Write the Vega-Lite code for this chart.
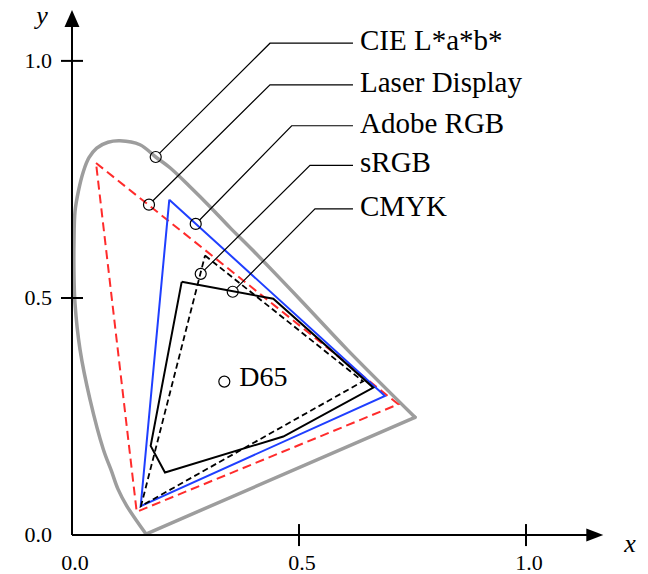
{
  "$schema": "https://vega.github.io/schema/vega-lite/v6.json",
  "width": 648,
  "height": 574,
  "autosize": {"type": "fit", "contains": "padding"},
  "padding": 0,
  "background": "white",
  "config": {"view": {"stroke": null}},
  "datasets": {
    "locus": [
      {"i": 0, "x": 0.1630, "y": 0.0021},
      {"i": 1, "x": 0.1205, "y": 0.0617},
      {"i": 2, "x": 0.1013, "y": 0.0968},
      {"i": 3, "x": 0.0870, "y": 0.1347},
      {"i": 4, "x": 0.0689, "y": 0.1811},
      {"i": 5, "x": 0.0396, "y": 0.2863},
      {"i": 6, "x": 0.0176, "y": 0.3916},
      {"i": 7, "x": 0.0066, "y": 0.4884},
      {"i": 8, "x": 0.0044, "y": 0.5495},
      {"i": 9, "x": 0.0044, "y": 0.6189},
      {"i": 10, "x": 0.0066, "y": 0.6821},
      {"i": 11, "x": 0.0139, "y": 0.7242},
      {"i": 12, "x": 0.0249, "y": 0.7663},
      {"i": 13, "x": 0.0374, "y": 0.7958},
      {"i": 14, "x": 0.0544, "y": 0.8162},
      {"i": 15, "x": 0.0793, "y": 0.8284},
      {"i": 16, "x": 0.1057, "y": 0.8316},
      {"i": 17, "x": 0.1498, "y": 0.8232},
      {"i": 18, "x": 0.1844, "y": 0.7973},
      {"i": 19, "x": 0.2159, "y": 0.7747},
      {"i": 20, "x": 0.2599, "y": 0.7347},
      {"i": 21, "x": 0.3040, "y": 0.6926},
      {"i": 22, "x": 0.3480, "y": 0.6484},
      {"i": 23, "x": 0.3965, "y": 0.6021},
      {"i": 24, "x": 0.5022, "y": 0.4968},
      {"i": 25, "x": 0.6057, "y": 0.3916},
      {"i": 26, "x": 0.7555, "y": 0.2484}
    ],
    "purple": [
      {"i": 0, "x": 0.7555, "y": 0.2484},
      {"i": 1, "x": 0.1630, "y": 0.0021}
    ],
    "laser": [
      {"i": 0, "x": 0.0529, "y": 0.7846},
      {"i": 1, "x": 0.7187, "y": 0.2758},
      {"i": 2, "x": 0.1425, "y": 0.0491},
      {"i": 3, "x": 0.0529, "y": 0.7846}
    ],
    "adobe": [
      {"i": 0, "x": 0.2143, "y": 0.7074},
      {"i": 1, "x": 0.6894, "y": 0.2933},
      {"i": 2, "x": 0.1513, "y": 0.0611},
      {"i": 3, "x": 0.2143, "y": 0.7074}
    ],
    "srgb": [
      {"i": 0, "x": 0.2930, "y": 0.5895},
      {"i": 1, "x": 0.6410, "y": 0.3242},
      {"i": 2, "x": 0.1520, "y": 0.0611},
      {"i": 3, "x": 0.2930, "y": 0.5895}
    ],
    "cmyk": [
      {"i": 0, "x": 0.2416, "y": 0.5341},
      {"i": 1, "x": 0.4434, "y": 0.4983},
      {"i": 2, "x": 0.6637, "y": 0.3109},
      {"i": 3, "x": 0.4654, "y": 0.2078},
      {"i": 4, "x": 0.2048, "y": 0.1320},
      {"i": 5, "x": 0.1733, "y": 0.1880},
      {"i": 6, "x": 0.2416, "y": 0.5341}
    ],
    "leaders": [
      {"name": "CIE", "i": 0, "x": 0.1930, "y": 0.8055},
      {"name": "CIE", "i": 1, "x": 0.4361, "y": 1.0373},
      {"name": "CIE", "i": 2, "x": 0.6189, "y": 1.0373},
      {"name": "Laser", "i": 0, "x": 0.1782, "y": 0.7051},
      {"name": "Laser", "i": 1, "x": 0.4361, "y": 0.9495},
      {"name": "Laser", "i": 2, "x": 0.6189, "y": 0.9495},
      {"name": "Adobe", "i": 0, "x": 0.2811, "y": 0.6644},
      {"name": "Adobe", "i": 1, "x": 0.4839, "y": 0.8632},
      {"name": "Adobe", "i": 2, "x": 0.6189, "y": 0.8632},
      {"name": "sRGB", "i": 0, "x": 0.2921, "y": 0.5592},
      {"name": "sRGB", "i": 1, "x": 0.5242, "y": 0.7796},
      {"name": "sRGB", "i": 2, "x": 0.6189, "y": 0.7796},
      {"name": "CMYK", "i": 0, "x": 0.3626, "y": 0.5213},
      {"name": "CMYK", "i": 1, "x": 0.5352, "y": 0.6878},
      {"name": "CMYK", "i": 2, "x": 0.6189, "y": 0.6878}
    ],
    "circles": [
      {"name": "CIE", "x": 0.1844, "y": 0.7973},
      {"name": "Laser", "x": 0.1696, "y": 0.6968},
      {"name": "Adobe", "x": 0.2725, "y": 0.6562},
      {"name": "sRGB", "x": 0.2835, "y": 0.5509},
      {"name": "CMYK", "x": 0.3540, "y": 0.5131},
      {"name": "D65", "x": 0.3355, "y": 0.3236}
    ],
    "labels": [
      {"label": "CIE L*a*b*", "x": 0.6344, "y": 1.0373},
      {"label": "Laser Display", "x": 0.6344, "y": 0.9495},
      {"label": "Adobe RGB", "x": 0.6344, "y": 0.8632},
      {"label": "sRGB", "x": 0.6344, "y": 0.7796},
      {"label": "CMYK", "x": 0.6344, "y": 0.6878}
    ],
    "d65": [{"label": "D65", "x": 0.3355, "y": 0.3236}],
    "axes": [
      {"x": 0, "y": 0, "x2": 1.16, "y2": 0},
      {"x": 0, "y": 0, "x2": 0, "y2": 1.1}
    ],
    "xticks": [{"x": 0.5, "y": 0}, {"x": 1.0, "y": 0}],
    "yticks": [{"x": 0, "y": 0.5}, {"x": 0, "y": 1.0}],
    "xticklabels": [
      {"label": "0.0", "x": 0, "y": 0},
      {"label": "0.5", "x": 0.5, "y": 0},
      {"label": "1.0", "x": 1.0, "y": 0}
    ],
    "yticklabels": [
      {"label": "0.0", "x": 0, "y": 0},
      {"label": "0.5", "x": 0, "y": 0.5},
      {"label": "1.0", "x": 0, "y": 1.0}
    ],
    "xarrow": [{"x": 1.1703, "y": 0}],
    "yarrow": [{"x": 0, "y": 1.1074}],
    "xtitle": [{"label": "x", "x": 1.2291, "y": 0}],
    "ytitle": [{"label": "y", "x": 0, "y": 1.1074}]
  },
  "encoding": {
    "x": {"field": "x", "type": "quantitative", "scale": {"domain": [-0.15859, 1.268722], "nice": false, "zero": false}, "axis": null},
    "y": {"field": "y", "type": "quantitative", "scale": {"domain": [-0.08, 1.128421], "nice": false, "zero": false}, "axis": null}
  },
  "layer": [
    {
      "data": {"name": "locus"},
      "mark": {"type": "line", "interpolate": "catmull-rom", "color": "#9d9d9d", "strokeWidth": 3.5, "strokeCap": "round"},
      "encoding": {"order": {"field": "i", "type": "quantitative"}}
    },
    {
      "data": {"name": "purple"},
      "mark": {"type": "line", "color": "#9d9d9d", "strokeWidth": 3.5, "strokeCap": "round"},
      "encoding": {"order": {"field": "i", "type": "quantitative"}}
    },
    {
      "data": {"name": "laser"},
      "mark": {"type": "line", "color": "#ff2b2b", "strokeWidth": 2, "strokeDash": [9, 5]},
      "encoding": {"order": {"field": "i", "type": "quantitative"}}
    },
    {
      "data": {"name": "adobe"},
      "mark": {"type": "line", "color": "#1f3fff", "strokeWidth": 2},
      "encoding": {"order": {"field": "i", "type": "quantitative"}}
    },
    {
      "data": {"name": "srgb"},
      "mark": {"type": "line", "color": "#000000", "strokeWidth": 1.8, "strokeDash": [6, 3.5]},
      "encoding": {"order": {"field": "i", "type": "quantitative"}}
    },
    {
      "data": {"name": "cmyk"},
      "mark": {"type": "line", "color": "#000000", "strokeWidth": 2},
      "encoding": {"order": {"field": "i", "type": "quantitative"}}
    },
    {
      "data": {"name": "leaders"},
      "mark": {"type": "line", "color": "#000000", "strokeWidth": 1.2},
      "encoding": {"order": {"field": "i", "type": "quantitative"}, "detail": {"field": "name"}}
    },
    {
      "data": {"name": "circles"},
      "mark": {"type": "point", "shape": "circle", "size": 121, "filled": false, "color": "#000000", "strokeWidth": 1.2, "opacity": 1}
    },
    {
      "data": {"name": "labels"},
      "mark": {"type": "text", "align": "left", "baseline": "middle", "dy": -2, "font": "Liberation Serif", "fontSize": 29, "color": "#000000"},
      "encoding": {"text": {"field": "label"}}
    },
    {
      "data": {"name": "d65"},
      "mark": {"type": "text", "align": "left", "baseline": "middle", "dx": 15, "dy": -4, "font": "Liberation Serif", "fontSize": 28, "color": "#000000"},
      "encoding": {"text": {"field": "label"}}
    },
    {
      "data": {"name": "axes"},
      "mark": {"type": "rule", "color": "#000000", "strokeWidth": 2},
      "encoding": {"x2": {"field": "x2"}, "y2": {"field": "y2"}}
    },
    {
      "data": {"name": "xticks"},
      "mark": {"type": "tick", "orient": "vertical", "color": "#000000", "size": 22, "thickness": 2, "opacity": 1}
    },
    {
      "data": {"name": "yticks"},
      "mark": {"type": "tick", "orient": "horizontal", "color": "#000000", "size": 22, "thickness": 2, "opacity": 1}
    },
    {
      "data": {"name": "xarrow"},
      "mark": {"type": "point", "shape": "M0,0 L-2,-0.76 L-2,0.76 Z", "size": 289, "filled": true, "color": "#000000", "strokeWidth": 0, "opacity": 1}
    },
    {
      "data": {"name": "yarrow"},
      "mark": {"type": "point", "shape": "M0,0 L-0.88,2 L0.88,2 Z", "size": 289, "filled": true, "color": "#000000", "strokeWidth": 0, "opacity": 1}
    },
    {
      "data": {"name": "xticklabels"},
      "mark": {"type": "text", "align": "center", "baseline": "middle", "dx": 3, "dy": 28, "font": "Liberation Serif", "fontSize": 22, "color": "#000000"},
      "encoding": {"text": {"field": "label"}}
    },
    {
      "data": {"name": "yticklabels"},
      "mark": {"type": "text", "align": "right", "baseline": "middle", "dx": -20, "dy": 0, "font": "Liberation Serif", "fontSize": 22, "color": "#000000"},
      "encoding": {"text": {"field": "label"}}
    },
    {
      "data": {"name": "xtitle"},
      "mark": {"type": "text", "align": "center", "baseline": "alphabetic", "dy": 17, "font": "Liberation Serif", "fontStyle": "italic", "fontSize": 26, "color": "#000000"},
      "encoding": {"text": {"field": "label"}}
    },
    {
      "data": {"name": "ytitle"},
      "mark": {"type": "text", "align": "center", "baseline": "alphabetic", "dx": -30, "dy": 14, "font": "Liberation Serif", "fontStyle": "italic", "fontSize": 26, "color": "#000000"},
      "encoding": {"text": {"field": "label"}}
    }
  ]
}
